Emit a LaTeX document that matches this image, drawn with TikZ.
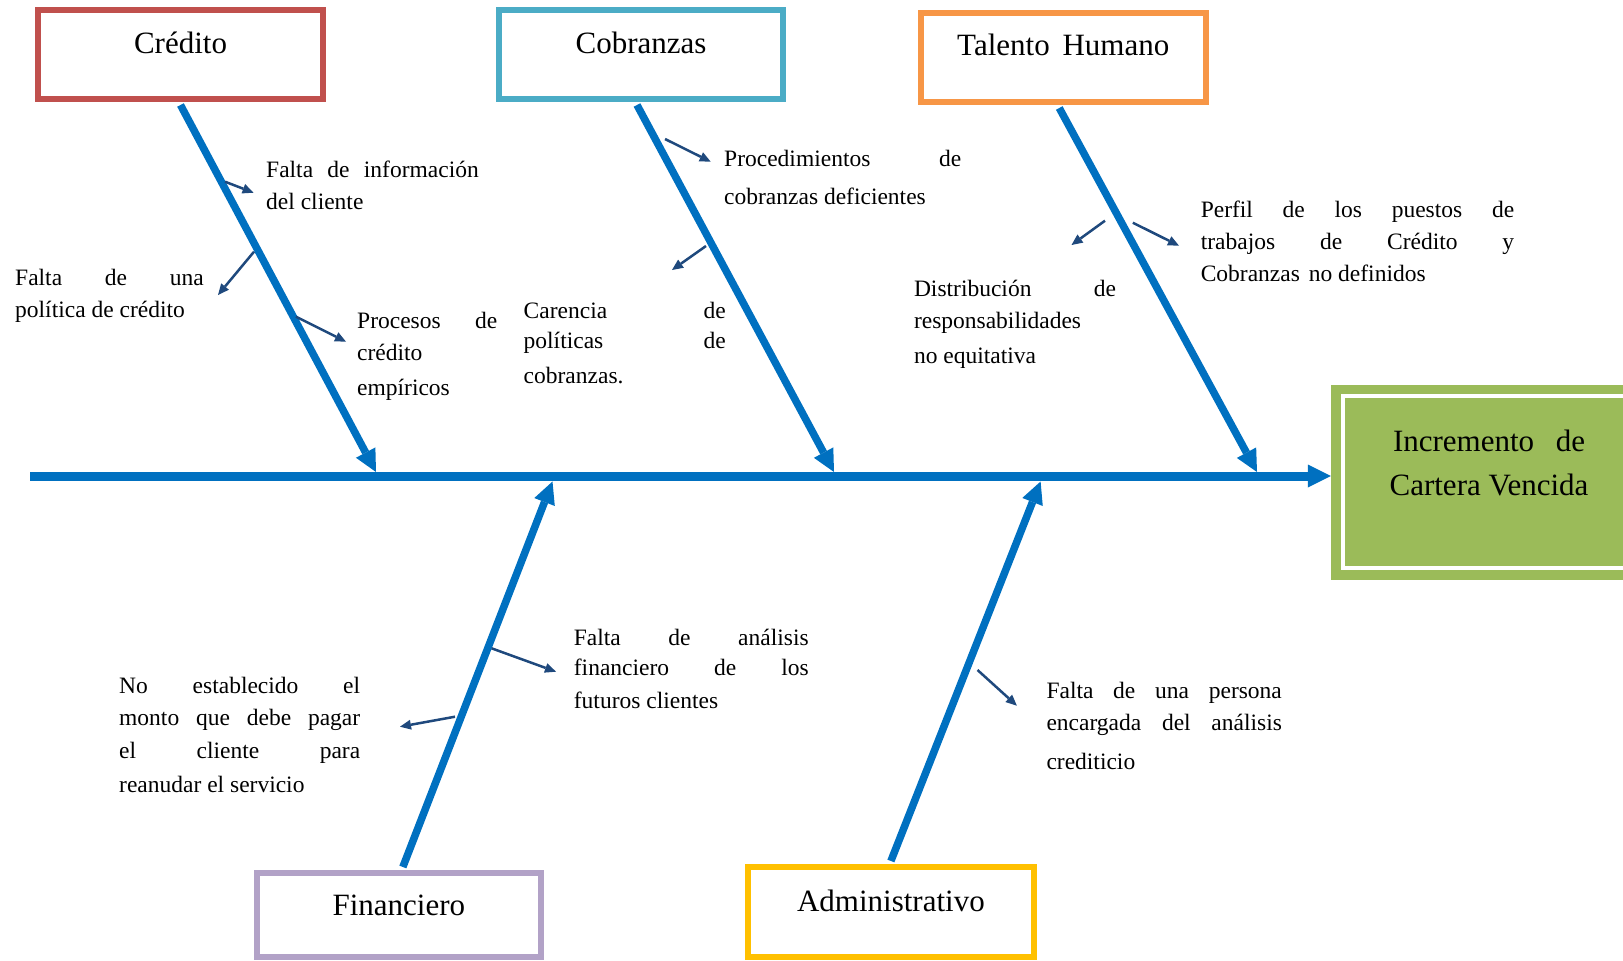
\documentclass[tikz,border=0pt]{standalone}
\usepackage{fontspec}
\setmainfont{Liberation Serif}
\usetikzlibrary{arrows.meta,calc}

\definecolor{credred}{HTML}{C0504D}
\definecolor{cobblue}{HTML}{4BACC6}
\definecolor{thorange}{HTML}{F79646}
\definecolor{finpurple}{HTML}{B2A2C7}
\definecolor{admgold}{HTML}{FFC000}
\definecolor{effgreen}{HTML}{9BBB59}
\definecolor{spineblue}{HTML}{0070C0}
\definecolor{causeblue}{HTML}{1F497D}

% a justified line that fills the whole paragraph width
\newcommand{\jrow}[1]{\makebox[\linewidth][s]{#1}}

\tikzset{
  catbox/.style={draw, line width=6pt, fill=white, inner sep=0pt,
    font=\fontsize{31}{37}\selectfont, text height=22pt},
  effbox/.style={fill=effgreen, draw=none, inner sep=0pt,
    minimum width=329pt, minimum height=195pt},
  efftext/.style={inner sep=0pt, anchor=base, font=\fontsize{31}{43.3}\selectfont},
  cause/.style={inner sep=0pt, anchor=base west, font=\fontsize{23.5}{32}\selectfont},
  spine/.style={draw=spineblue, line width=7.5pt,
    -{Triangle[length=22pt,width=22pt,line width=0pt]}},
  mainline/.style={draw=spineblue, line width=9pt,
    -{Triangle[length=23pt,width=23pt,line width=0pt]}},
  causearrow/.style={draw=causeblue, line width=2.5pt,
    -{Triangle[length=11pt,width=10pt,line width=0pt]}}
}

\begin{document}
\begin{tikzpicture}[x=1pt,y=-1pt]
\useasboundingbox (0,0) rectangle (1623,961);

% effect box
\node[effbox] (eff) at (1495.5,482.5) {};
\draw[white, line width=4pt] ($(eff.north west)+(12,11.5)$) rectangle ($(eff.south east)+(20,-12.5)$);
\node[efftext] (efft) at (1489,451.7)
  {\parbox[t]{215pt}{\centering\makebox[192pt][s]{Incremento de}\\Cartera Vencida}};

% category boxes
\node[catbox, draw=credred, minimum width=285pt, minimum height=89pt, text depth=24.4pt]
  (cred) at (180.5,54.5) {Crédito};
\node[catbox, draw=cobblue, minimum width=284pt, minimum height=89pt, text depth=24.4pt]
  (cob) at (641,54.5) {Cobranzas};
\node[catbox, draw=thorange, minimum width=285.5pt, minimum height=89pt, text depth=27pt]
  (th) at (1063.25,57.5) {Talento \hspace{5pt}Humano};
\node[catbox, draw=finpurple, minimum width=284.3pt, minimum height=84pt, text depth=22pt]
  (fin) at (398.85,915) {Financiero};
\node[catbox, draw=admgold, minimum width=285.8pt, minimum height=90pt, text depth=22.6pt]
  (adm) at (890.9,912) {Administrativo};

% backbone
\coordinate (ml0) at (30,476);
\draw[mainline] (ml0) -- (eff.west |- ml0);

% bone tips on the backbone
\coordinate (tA) at (376,472);
\coordinate (tB) at (834,472);
\coordinate (tC) at (1257,472);
\coordinate (tD) at (552.5,481.5);
\coordinate (tE) at (1040.6,481.5);

\draw[spine] ([yshift=-3pt]cred.south) -- (tA);
\draw[spine] ([xshift=-4pt,yshift=-3pt]cob.south) -- (tB);
\draw[spine] ([xshift=-4pt,yshift=-3pt]th.south) -- (tC);
\draw[spine] ([xshift=4pt,yshift=3pt]fin.north) -- (tD);
\draw[spine] ([yshift=3pt]adm.north) -- (tE);

% cause texts
\node[cause] (c1) at (266,177)
  {\parbox[t]{212.6pt}{\jrow{Falta de información}\\del cliente}};
\node[cause] (c2) at (15,285)
  {\parbox[t]{188.6pt}{\jrow{Falta de una}\\política de crédito}};
\node[cause] (c3) at (357,328.7)
  {\parbox[t]{140pt}{\jrow{Procesos de}\\crédito\\[3pt]empíricos}};
\node[cause] (c4) at (724,166)
  {\parbox[t]{237pt}{\jrow{Procedimientos de}\\[6pt]cobranzas deficientes}};
\node[cause] (c5) at (523.5,318.7)
  {\parbox[t]{202pt}{\jrow{Carencia de}\\[-2pt]\jrow{políticas de}\\[2.3pt]cobranzas.}};
\node[cause] (c6) at (913.8,296)
  {\parbox[t]{202pt}{\jrow{Distribución de}\\[0.7pt]responsabilidades\\[2.3pt]no equitativa}};
\node[cause] (c7) at (1200.6,217)
  {\parbox[t]{313.4pt}{\jrow{Perfil de los puestos de}\\\jrow{trabajos de Crédito y}\\Cobranzas \hspace{3pt}no definidos}};
\node[cause] (c8) at (573.7,645.3)
  {\parbox[t]{234.8pt}{\jrow{Falta de análisis}\\[-2pt]\jrow{financiero de los}\\[1.4pt]futuros clientes}};
\node[cause] (c9) at (119,693)
  {\parbox[t]{241pt}{\jrow{No establecido el}\\\jrow{monto que debe pagar}\\[1.7pt]\jrow{el cliente para}\\[1.3pt]reanudar el servicio}};
\node[cause] (c10) at (1046.3,698.7)
  {\parbox[t]{235.4pt}{\jrow{Falta de una persona}\\\jrow{encargada del análisis}\\[6.7pt]crediticio}};

% cause arrows
\coordinate (a1s) at (225,181.7);   \coordinate (a1e) at (253.6,192.7);
\coordinate (a2s) at (254,251.7);   \coordinate (a2e) at (218,295);
\coordinate (a3s) at (296,316.7);   \coordinate (a3e) at (346,341.7);
\coordinate (a4s) at (665,139);     \coordinate (a4e) at (710.7,161.7);
\coordinate (a5s) at (706,246);     \coordinate (a5e) at (672,270);
\coordinate (a6s) at (1105,220.7);  \coordinate (a6e) at (1071.5,245);
\coordinate (a7s) at (1132.8,222.7);\coordinate (a7e) at (1179,245.7);
\coordinate (a8s) at (491.6,648.3); \coordinate (a8e) at (556,671.7);
\coordinate (a9s) at (455,716.7);   \coordinate (a9e) at (400,726.7);
\coordinate (a10s) at (977.5,670);  \coordinate (a10e) at (1016.9,705.7);

\foreach \k in {1,...,10}{
  \draw[causearrow] (a\k s) -- (a\k e);
}
\end{tikzpicture}
\end{document}
